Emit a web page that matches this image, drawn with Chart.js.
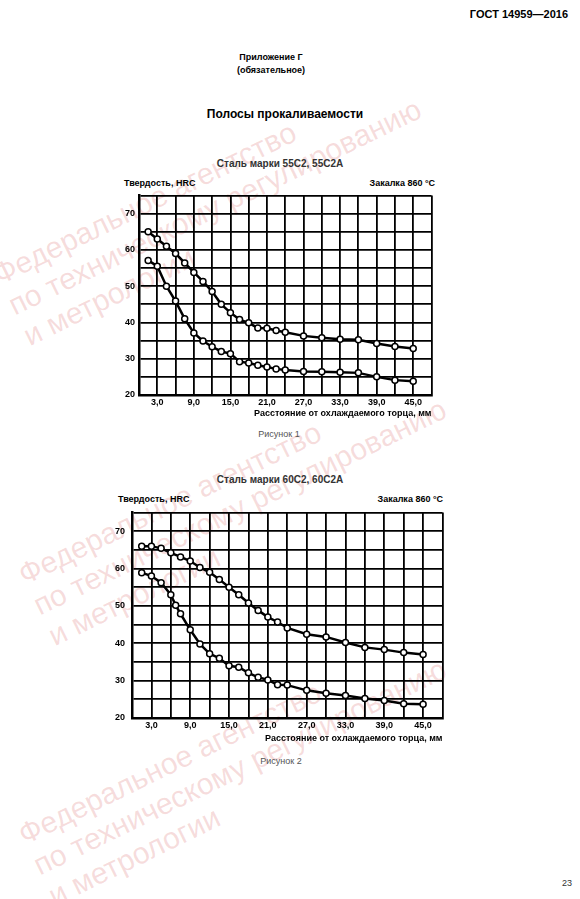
<!DOCTYPE html>
<html lang="ru">
<head>
<meta charset="utf-8">
<title>Полосы прокаливаемости</title>
<script src="https://cdn.jsdelivr.net/npm/chart.js@4.4.1/dist/chart.umd.min.js"></script>
<style>
  html, body { margin: 0; padding: 0; background: #fff; }
  body { width: 580px; height: 899px; position: relative; overflow: hidden; font-family: "Liberation Sans", Arial, sans-serif; }
  .t { position: absolute; white-space: nowrap; line-height: 1; color: #000; z-index: 2; }
  .b { font-weight: bold; }
  .c { text-align: center; width: 300px; }
  .wm { position: absolute; color: rgba(215, 95, 95, 0.22); font-size: 30px; line-height: 34px; transform-origin: 0 0; transform: rotate(-26deg); white-space: nowrap; z-index: 0; }
  .box { position: absolute; z-index: 1; }
</style>
</head>
<body>

<div class="wm" style="left:-12px; top:261px">Федеральное агентство<br>по техническому регулированию<br>и метрологии</div>
<div class="wm" style="left:13px; top:561px">Федеральное агентство<br>по техническому регулированию<br>и метрологии</div>
<div class="wm" style="left:13px; top:821px">Федеральное агентство<br>по техническому регулированию<br>и метрологии</div>

<div class="t b" style="right:12px; top:9px; font-size:11px">ГОСТ 14959—2016</div>
<div class="t b c" style="left:121px; top:53px; font-size:9px">Приложение Г</div>
<div class="t b c" style="left:121px; top:66px; font-size:9px">(обязательное)</div>
<div class="t b c" style="left:135px; top:108px; font-size:12px">Полосы прокаливаемости</div>

<div class="t b c" style="left:130px; top:158.5px; font-size:10px; color:#333">Сталь марки 55С2, 55С2А</div>
<div class="t b" style="left:124px; top:178.5px; font-size:9px">Твердость, HRC</div>
<div class="t b" style="right:145px; top:178.5px; font-size:9px">Закалка 860 °С</div>
<div class="box" style="left:109.3px; top:190.3px"><canvas id="chart1" width="328" height="231"></canvas></div>
<div class="t c" style="left:129px; top:429.5px; font-size:9px; color:#555">Рисунок 1</div>

<div class="t b c" style="left:130px; top:474.5px; font-size:10px; color:#333">Сталь марки 60С2, 60С2А</div>
<div class="t b" style="left:118px; top:494.5px; font-size:9px">Твердость, HRC</div>
<div class="t b" style="right:137px; top:494.5px; font-size:9px">Закалка 860 °С</div>
<div class="box" style="left:100px; top:507px"><canvas id="chart2" width="348" height="239"></canvas></div>
<div class="t c" style="left:131px; top:756.5px; font-size:9px; color:#555">Рисунок 2</div>

<div class="t" style="right:8px; top:879px; font-size:9px; color:#333">23</div>

<script>
// расстояние от охлаждаемого торца, мм
const distances = [1.5, 3, 4.5, 6, 7.5, 9, 10.5, 12, 13.5, 15, 16.5, 18, 19.5, 21, 22.5, 24, 27, 30, 33, 36, 39, 42, 45]
const distancesMin60 = [1.5, 3, 4.5, 6, 6.75, 7.5, 9, 10.5, 12, 13.5, 15, 16.5, 18, 19.5, 21, 22.5, 24, 27, 30, 33, 36, 39, 42, 45]

// твердость HRC, верхняя и нижняя границы полосы
const hrcMax55 = [65, 63, 61, 59, 56.4, 53.8, 51.3, 48.5, 45, 42.7, 40.8, 39.9, 38.5, 38.4, 37.8, 37.3, 36.3, 35.8, 35.4, 35.2, 34.2, 33.4, 32.8]
const hrcMin55 = [57.1, 55.5, 50, 45.9, 41, 37.1, 34.9, 33.3, 32, 31.4, 29.2, 28.8, 28.2, 27.7, 27.2, 26.9, 26.5, 26.4, 26.3, 26.1, 25, 24.1, 23.8]
const hrcMax60 = [66, 66, 65.4, 64.2, 63.1, 62, 60.3, 59, 57.1, 55, 53, 50.8, 48.8, 47, 45.7, 44.1, 42.4, 41.7, 40.2, 38.9, 38.3, 37.5, 37]
const hrcMin60 = [58.9, 58, 56.2, 53, 50.2, 47.9, 43.6, 39.8, 37.2, 36, 34, 33.6, 32.1, 30.9, 30.2, 28.9, 28.8, 27.4, 26.6, 26, 25.2, 24.7, 23.8, 23.7]

const xTickLabels = ['3,0', '9,0', '15,0', '21,0', '27,0', '33,0', '39,0', '45,0']
const yTickLabels = [20, 30, 40, 50, 60, 70]
const xAxisTitle = 'Расстояние от охлаждаемого торца, мм'

const labelFont = { family: 'Liberation Sans', size: 9, weight: 'bold' }

const toPoints = (xs, ys) => xs.map((x, i) => ({ x: x, y: ys[i] }))

const lineSet = (data) => ({
    data: data,
    borderColor: '#000',
    borderWidth: 2.5,
    pointRadius: 3,
    pointBorderWidth: 1.5,
    pointBackgroundColor: '#fff',
    pointBorderColor: '#000',
    tension: 0
})

const makeChart = (id, upper, lower, opt) => {
    new Chart(document.getElementById(id), {
        type: 'line',
        data: { datasets: [lineSet(upper), lineSet(lower)] },
        options: {
            responsive: false,
            animation: false,
            layout: { padding: { top: 2, right: 4, left: 0, bottom: 0 } },
            plugins: { legend: { display: false }, tooltip: { enabled: false } },
            scales: {
                x: {
                    type: 'linear',
                    min: 0,
                    max: 48,
                    afterFit: s => { s.height = opt.xHeight; s.paddingLeft = 0; s.paddingRight = 0 },
                    ticks: {
                        stepSize: 3,
                        autoSkip: false,
                        maxRotation: 0,
                        padding: 2.5,
                        color: '#000',
                        font: labelFont,
                        callback: v => xTickLabels.find(l => parseFloat(l.replace(',', '.')) === v) || ''
                    },
                    grid: { color: '#000', lineWidth: 1.8, drawTicks: false },
                    border: { display: true, color: '#000', width: 2.5 },
                    title: {
                        display: true,
                        text: xAxisTitle,
                        align: 'end',
                        color: '#000',
                        font: labelFont,
                        padding: { top: 0, bottom: opt.titlePad }
                    }
                },
                y: {
                    min: 20,
                    max: 75,
                    afterFit: s => { s.width = opt.yWidth; s.paddingTop = 0; s.paddingBottom = 0 },
                    ticks: {
                        stepSize: 5,
                        autoSkip: false,
                        padding: opt.yPad,
                        color: '#000',
                        font: labelFont,
                        callback: v => yTickLabels.includes(v) ? String(v) : ''
                    },
                    grid: { color: '#000', lineWidth: 1.8, drawTicks: false },
                    border: { display: true, color: '#000', width: 2.5 }
                }
            }
        }
    })
}

makeChart('chart1', toPoints(distances, hrcMax55), toPoints(distances, hrcMin55),
    { xHeight: 26, titlePad: 2, yWidth: 30, yPad: 4 })
makeChart('chart2', toPoints(distances, hrcMax60), toPoints(distancesMin60, hrcMin60),
    { xHeight: 28, titlePad: 2.5, yWidth: 32, yPad: 7 })
</script>
</body>
</html>
